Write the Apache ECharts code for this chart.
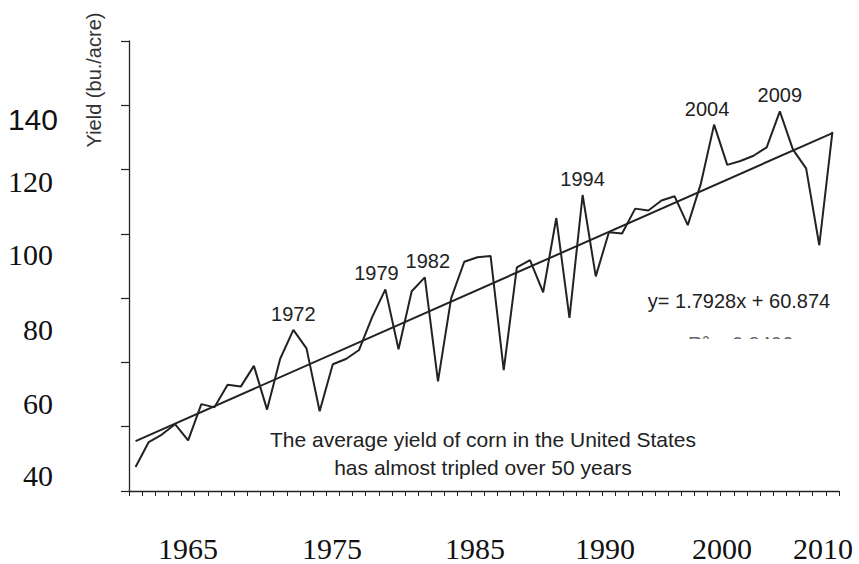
<!DOCTYPE html>
<html>
<head>
<meta charset="utf-8">
<script src="https://cdn.jsdelivr.net/npm/echarts@6/dist/echarts.min.js"></script>
<style>
  html, body { margin: 0; padding: 0; background: #fff; }
  #chart { width: 859px; height: 564px; }
</style>
</head>
<body>
<div id="chart"></div>
<script>
  // US corn yield, bu./acre, 1960 - 2013
  var years = [];
  for (var y = 1960; y <= 2013; y++) years.push(String(y));
  var yields = [
    54.7, 62.4, 64.7, 67.9, 62.9, 74.1, 73.1, 80.1, 79.5, 85.9,
    72.4, 88.1, 97.0, 91.3, 71.9, 86.4, 88.0, 90.8, 101.0, 109.5,
    91.0, 108.9, 113.2, 81.1, 106.7, 118.0, 119.4, 119.8, 84.6, 116.3,
    118.5, 108.6, 131.5, 100.7, 138.6, 113.5, 127.1, 126.7, 134.4, 133.8,
    136.9, 138.2, 129.3, 142.2, 160.3, 147.9, 149.1, 150.7, 153.3, 164.4,
    152.6, 146.8, 123.1, 158.1
  ];
  var peakYears = ['1972', '1979', '1982', '1994', '2004', '2009'];
  // linear trend end points
  var trendYears = ['1960', '2013'];
  var trendValues = [62.7, 157.7];
  var yTickLabels = ['140', '120', '100', '80', '60', '40'];
  var xTickLabels = ['1965', '1975', '1985', '1990', '2000', '2010'];
  var equationText = 'y= 1.7928x + 60.874';
  var noteLines = ['The average yield of corn in the United States', 'has almost tripled over 50 years'];

  var chart = echarts.init(document.getElementById('chart'), null, { renderer: 'svg' });

  var ink = '#222';
  // small nudges of the peak labels, as placed in the picture
  var peakShift = [0, -9, 3, 0, -7, 0];
  var lineData = yields.map(function (v, i) {
    var k = peakYears.indexOf(years[i]);
    if (k >= 0) {
      return { value: v, label: { show: true, offset: [peakShift[k], 0] } };
    }
    return v;
  });

  // where the odd tick labels sit in the picture
  var yLabelPos = [[58, 119, 'sans'], [53, 181], [53, 254], [53, 329], [53, 403], [53, 475]];
  var xLabelPos = [188, 332, 475, 605, 722, 823];

  var graphics = [];
  yTickLabels.forEach(function (t, i) {
    var p = yLabelPos[i];
    graphics.push({
      type: 'text', x: p[0], y: p[1],
      style: {
        text: t, fill: '#111', fontSize: 30,
        fontFamily: p[2] ? 'Liberation Sans' : 'Liberation Serif',
        align: 'right', verticalAlign: 'middle'
      }
    });
  });
  xTickLabels.forEach(function (t, i) {
    graphics.push({
      type: 'text', x: xLabelPos[i], y: 548,
      style: {
        text: t, fill: '#111', fontSize: 30, fontFamily: 'Liberation Serif',
        align: 'center', verticalAlign: 'middle'
      }
    });
  });
  graphics.push({
    type: 'text', x: 94, y: 80, rotation: Math.PI / 2,
    style: {
      text: 'Yield (bu./acre)', fill: '#333', fontSize: 20, fontFamily: 'Liberation Sans',
      align: 'center', verticalAlign: 'middle'
    }
  });
  noteLines.forEach(function (t, i) {
    graphics.push({
      type: 'text', x: 483, y: 439 + i * 28,
      style: {
        text: t, fill: ink, fontSize: 21, fontFamily: 'Liberation Sans',
        align: 'center', verticalAlign: 'middle'
      }
    });
  });
  graphics.push({
    type: 'text', x: 739, y: 301,
    style: {
      text: equationText, fill: ink, fontSize: 20, fontFamily: 'Liberation Sans',
      align: 'center', verticalAlign: 'middle'
    }
  });
  // R² line, mostly cut off in the original
  graphics.push({
    type: 'text', x: 688, y: 334, z: 1,
    style: {
      text: 'R² = 0.8406', fill: '#666', fontSize: 20, fontFamily: 'Liberation Sans',
      align: 'left', verticalAlign: 'top'
    }
  });
  graphics.push({
    type: 'rect', z: 2,
    shape: { x: 680, y: 339, width: 150, height: 30 },
    style: { fill: '#fff' }
  });

  var option = {
    animation: false,
    backgroundColor: '#fff',
    grid: { left: 129, right: 20, top: 41, bottom: 73 },
    xAxis: {
      type: 'category',
      data: years,
      boundaryGap: true,
      axisLine: { lineStyle: { color: ink, width: 1.3 } },
      axisTick: { show: true, interval: 0, length: 5, lineStyle: { color: ink, width: 1 } },
      axisLabel: { show: false },
      splitLine: { show: false }
    },
    yAxis: [
      {
        type: 'value', min: 47.3, max: 186.1, show: false
      },
      {
        type: 'value', min: 0, max: 7, interval: 1, position: 'left',
        axisLine: { show: true, lineStyle: { color: ink, width: 1.3 } },
        axisTick: { show: true, length: 8, lineStyle: { color: ink, width: 1.2 } },
        axisLabel: { show: false },
        splitLine: { show: false }
      }
    ],
    series: [
      {
        type: 'line',
        yAxisIndex: 0,
        data: lineData,
        symbol: 'circle',
        symbolSize: 0,
        showSymbol: true,
        lineStyle: { color: ink, width: 2 },
        itemStyle: { color: ink },
        label: {
          show: false, position: 'top', distance: 6,
          fontSize: 20, fontFamily: 'Liberation Sans', color: ink,
          formatter: function (p) { return p.name; }
        },
        z: 3
      },
      {
        type: 'line',
        yAxisIndex: 0,
        data: trendYears.map(function (yr, i) { return [yr, trendValues[i]]; }),
        symbol: 'none',
        lineStyle: { color: ink, width: 2 },
        z: 2
      }
    ],
    graphic: graphics
  };
  chart.setOption(option);
</script>
</body>
</html>
